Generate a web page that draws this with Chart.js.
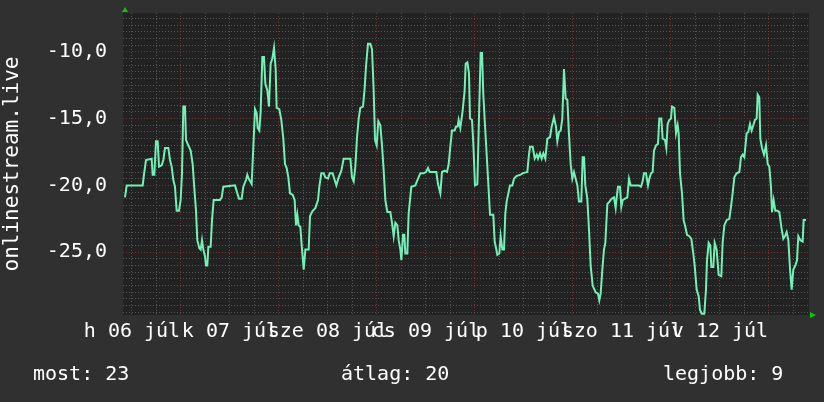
<!DOCTYPE html>
<html>
<head>
<meta charset="utf-8">
<script src="https://cdn.jsdelivr.net/npm/chart.js@4.4.1/dist/chart.umd.min.js"></script>
<style>
  html, body { margin: 0; padding: 0; background: #303030; }
  #wrap { position: relative; width: 824px; height: 402px; }
  .stat { position: absolute; top: 361px; font: 20px "DejaVu Sans Mono", monospace; line-height: 24px; color: #ffffff; white-space: pre; }
</style>
</head>
<body>
<div id="wrap">
  <canvas id="chart" width="824" height="402"></canvas>
  <div class="stat" id="stat0" style="left:33px"></div>
  <div class="stat" id="stat1" style="left:341px"></div>
  <div class="stat" id="stat2" style="left:663px"></div>
</div>
<script>
// Hours since the left edge of the graph (one week) and the plotted value
const hours = [
  0.49, 0.90, 4.82, 5.14, 5.63, 7.02, 7.26, 7.67, 8.08, 8.49, 8.82, 9.47, 9.88, 10.29, 11.10, 11.51, 11.92, 12.33, 12.73, 13.14,
  13.71, 14.12, 14.45, 14.77, 15.18, 15.43, 16.00, 16.57, 17.06, 17.39, 17.88, 18.20, 18.69, 19.02, 19.35, 19.67, 20.08, 20.33, 20.65, 20.90,
  21.47, 21.80, 22.20, 23.75, 24.16, 24.57, 27.43, 28.00, 28.41, 29.06, 29.47, 30.12, 30.45, 30.78, 31.51, 31.92, 32.33, 32.73, 32.98, 33.39,
  33.71, 34.12, 34.53, 34.86, 35.35, 35.75, 36.16, 36.57, 36.98, 37.39, 37.63, 38.28, 38.77, 39.26, 39.67, 40.08, 40.49, 40.90, 41.55,
  42.04, 42.37, 42.70, 43.02, 43.43, 43.84, 44.25, 44.66, 45.47, 45.80, 46.45, 47.10, 47.76, 48.08, 48.57, 49.15, 49.55, 50.21, 50.61, 51.35,
  51.84, 52.25, 52.82, 53.47, 54.04, 55.68, 56.08, 56.49, 56.90, 57.31, 57.72, 58.12, 58.78, 59.19, 59.51, 60.00, 60.57, 60.98, 61.39, 61.72,
  62.12, 62.53, 63.02, 63.43, 63.84, 64.25, 64.74, 65.47, 65.88, 66.29, 66.70, 67.19, 67.51, 67.92, 68.17, 68.57, 68.90, 69.14, 69.63, 69.96,
  70.61, 71.59, 72.25, 72.82, 73.63, 74.21, 74.70, 75.10, 76.74, 77.14, 77.72, 78.12, 78.78, 79.35, 79.76, 80.16, 80.57, 81.22, 81.55, 81.96,
  82.20, 82.61, 83.18, 83.67,
  83.92, 84.33, 84.73, 84.98, 85.47, 85.80, 86.20, 86.78, 87.18, 87.59, 87.92, 88.24, 88.65, 89.06, 89.47, 89.88, 90.69, 91.02, 91.43, 91.67,
  92.16, 92.49, 92.90, 93.31, 93.63, 93.96, 94.37, 94.77, 95.35, 95.75, 96.33, 97.39, 97.80, 99.02, 99.35, 99.67, 100.33, 100.82, 101.31, 101.63,
  102.12, 102.53, 102.94, 103.43, 103.92, 104.57, 104.98, 105.55, 106.04, 106.37, 106.78, 107.18, 107.59, 108.00, 108.41, 108.82, 109.22, 109.63, 110.04, 110.45,
  110.86, 111.27, 111.67, 112.24, 112.57, 112.90, 113.22, 113.71, 114.12, 114.53, 115.02, 115.75, 116.33, 116.65, 116.98, 117.39, 117.79, 118.12, 118.61, 119.18,
  119.67, 120.24, 120.65, 120.90, 121.22, 121.71, 122.04, 122.37, 122.86, 123.51, 123.92, 124.33, 126.37,
  126.85, 127.26, 127.59, 128.08, 128.57, 128.90, 129.30, 129.71, 130.04, 130.53, 131.02, 131.34, 131.83, 132.16, 132.73, 133.06, 133.39, 133.79, 134.20, 134.45,
  135.02, 135.43, 135.83, 136.08, 136.41, 136.90, 137.30, 137.71, 138.12, 138.69, 139.18, 139.67, 140.00, 140.49, 140.98, 141.30, 141.71, 142.36, 142.77, 143.02,
  143.43, 143.83, 144.08, 144.57, 144.90, 145.38, 145.87, 146.53, 146.85, 147.26, 147.83, 148.49, 148.90, 149.30, 149.71, 150.28, 150.94, 151.34, 151.75, 152.16,
  152.73, 153.14, 153.55, 153.96, 154.36, 154.77, 155.18, 155.43, 155.83, 156.08, 156.49, 156.98, 157.47, 157.88, 158.28, 158.69, 158.94, 159.34, 159.75, 160.32,
  160.73, 161.22, 161.71, 162.12, 162.53, 162.94, 163.34, 163.75, 164.16, 164.65, 165.06, 165.38, 165.88, 166.45, 166.69, 167.26
];
const values = [
  -20.9, -20.0, -20.0, -19.2, -18.1, -18.0, -19.2, -19.2, -16.7, -16.7, -18.6, -18.5, -18.1, -17.2, -17.2, -18.1, -18.6, -19.6, -20.1, -21.9,
  -21.9, -21.1, -19.1, -14.1, -14.1, -16.6, -17.0, -17.4, -18.4, -19.9, -21.9, -24.1, -24.7, -24.8, -24.1, -24.8, -25.3, -26.0, -26.0, -24.6,
  -24.6, -22.6, -21.1, -21.1, -20.9, -20.1, -20.0, -20.6, -21.0, -21.0, -20.1, -19.6, -19.2, -19.5, -19.9, -17.1, -14.3, -14.6, -15.7, -15.9,
  -14.5, -10.4, -10.4, -12.4, -12.9, -14.1, -10.9, -10.5, -9.7, -11.3, -14.2, -14.3, -15.1, -16.5, -18.4, -18.7, -19.4, -20.6, -20.7,
  -21.1, -23.0, -22.2, -23.0, -23.1, -24.8, -26.3, -24.8, -24.8, -22.3, -21.9, -21.7, -21.1, -20.1, -19.1, -19.1, -19.4, -19.5, -19.1, -19.1,
  -19.6, -20.0, -19.4, -18.9, -18.0, -18.0, -19.4, -19.7, -18.6, -16.4, -15.0, -14.2, -14.1, -12.7, -11.1, -9.4, -9.4, -9.8, -12.9, -16.6,
  -17.0, -15.2, -15.5, -17.0, -18.9, -21.1, -22.0, -22.0, -22.8, -23.8, -22.8, -23.0, -24.1, -24.8, -25.6, -23.7, -23.7, -25.1, -25.1, -22.1,
  -20.1, -20.0, -19.5, -19.1, -19.1, -19.0, -18.7, -19.0, -19.0, -19.9, -20.6, -19.0, -18.9, -19.0, -18.4, -17.1, -15.9, -15.9, -15.6, -15.6,
  -15.1, -15.7, -14.4, -12.9,
  -10.9, -10.8, -11.6, -15.0, -15.1, -16.9, -20.0, -19.9, -14.9, -10.1, -10.1, -13.2, -15.5, -17.7, -19.9, -22.2, -22.2, -24.2, -24.8, -25.2,
  -25.1, -23.8, -24.8, -24.8, -22.1, -21.2, -20.6, -20.0, -20.0, -19.5, -19.3, -19.2, -19.1, -19.0, -17.9, -17.1, -17.1, -18.0, -17.7, -18.0,
  -17.6, -18.0, -17.6, -18.0, -16.5, -16.4, -15.6, -14.9, -15.6, -16.7, -16.0, -15.9, -15.0, -11.3, -13.5, -13.6, -16.2, -18.4, -19.5, -19.0,
  -19.5, -20.0, -21.2, -21.2, -17.9, -17.9, -20.0, -21.0, -23.3, -26.0, -27.5, -28.0, -28.1, -28.6, -28.1, -26.3, -24.8, -24.3, -21.4, -21.2,
  -21.0, -20.9, -21.7, -20.9, -20.1, -20.1, -21.6, -21.1, -21.0, -20.9, -19.5, -20.0, -20.0,
  -20.1, -19.7, -19.1, -19.1, -20.0, -19.5, -19.1, -19.0, -17.4, -17.0, -16.9, -15.0, -15.0, -16.5, -16.6, -17.2, -15.4, -15.1, -15.0, -14.1,
  -14.2, -16.1, -15.5, -16.1, -19.1, -20.6, -22.6, -23.1, -23.7, -23.8, -24.0, -25.1, -26.0, -27.8, -28.3, -29.3, -29.6, -29.6, -27.8, -25.6,
  -24.3, -24.5, -26.1, -26.1, -24.3, -24.8, -26.7, -26.8, -24.3, -23.0, -22.6, -22.5, -21.6, -20.6, -19.4, -19.1, -19.0, -17.9, -17.7, -17.9,
  -16.1, -16.0, -15.4, -15.9, -15.5, -15.1, -15.0, -13.2, -13.4, -16.5, -17.2, -17.7, -17.0, -18.4, -18.6, -20.1, -22.0, -21.1, -21.9, -21.9,
  -22.0, -23.1, -24.0, -23.8, -23.5, -24.1, -26.2, -27.8, -26.3, -26.0, -25.6, -23.8, -24.1, -24.2, -22.6, -22.6
];

// Day labels sit at noon, day lines at midnight
const dayLabels = ['h 06 júl', 'k 07 júl', 'sze 08 júl', 'cs 09 júl', 'p 10 júl', 'szo 11 júl', 'v 12 júl'];
const labelHours = [2.2, 26.2, 50.2, 74.2, 98.2, 122.2, 146.2];
const yTickValues = [-10, -15, -20, -25];
const yTickLabels = ['-10,0', '-15,0', '-20,0', '-25,0'];
const yAxisTitle = 'onlinestream.live';
const statLabels = ['most', 'átlag', 'legjobb'];
const statValues = [23, 20, 9];

const X_MIN = 0, X_MAX = 168;
const Y_MIN = -29.7, Y_MAX = -7.1;

const FONT = { family: '"DejaVu Sans Mono", monospace', size: 20 };
const MINOR = '#545454';
const MAJOR = '#7a2e2e';

// 6 hour grid steps starting from the first label
const gridHours = [];
for (let h = labelHours[0]; h < X_MAX; h += 6) gridHours.push(Math.round(h * 10) / 10);

statLabels.forEach((name, i) => {
  document.getElementById('stat' + i).textContent = `${name}: ${statValues[i]}`;
});

const frame = {
  id: 'frame',
  beforeDraw(chart) {
    const { ctx, chartArea: a } = chart;
    ctx.save();
    ctx.fillStyle = '#222222';
    ctx.fillRect(a.left, a.top, a.right - a.left, a.bottom - a.top);
    ctx.restore();
  },
  afterDraw(chart) {
    const { ctx, chartArea: a } = chart;
    ctx.save();
    ctx.fillStyle = '#00cc00';
    // arrow on top of y axis
    ctx.beginPath();
    ctx.moveTo(a.left - 1, a.top - 1);
    ctx.lineTo(a.left + 5, a.top - 1);
    ctx.lineTo(a.left + 2, a.top - 6);
    ctx.closePath();
    ctx.fill();
    // arrow at end of x axis
    ctx.beginPath();
    ctx.moveTo(a.right + 1, a.bottom - 3);
    ctx.lineTo(a.right + 1, a.bottom + 3);
    ctx.lineTo(a.right + 7, a.bottom);
    ctx.closePath();
    ctx.fill();
    ctx.restore();
  }
};

new Chart(document.getElementById('chart'), {
  type: 'line',
  data: {
    datasets: [{
      data: hours.map((h, i) => ({ x: h, y: values[i] })),
      borderColor: '#72f0b6',
      borderWidth: 2,
      pointRadius: 0,
      tension: 0,
      fill: false
    }]
  },
  options: {
    responsive: false,
    animation: false,
    devicePixelRatio: 1,
    layout: { padding: { left: 0, top: 13, right: 15, bottom: 50 } },
    plugins: { legend: { display: false }, tooltip: { enabled: false } },
    scales: {
      x: {
        type: 'linear',
        min: X_MIN,
        max: X_MAX,
        afterBuildTicks: (scale) => { scale.ticks = gridHours.map(v => ({ value: v })); },
        afterFit: (scale) => {
          scale.height = 37;
          scale.paddingLeft = 0;
          scale.paddingRight = 0;
        },
        grid: {
          drawTicks: false,
          lineWidth: 1,
          color: (ctx) => (ctx.index % 4 === 2 ? MAJOR : MINOR)
        },
        border: { display: false, dash: [1, 2] },
        ticks: {
          autoSkip: false,
          maxRotation: 0,
          minRotation: 0,
          padding: 5,
          color: '#ffffff',
          font: FONT,
          callback: (value, index) => (index % 4 === 0 ? dayLabels[index / 4] : '')
        }
      },
      y: {
        min: Y_MIN,
        max: Y_MAX,
        afterFit: (scale) => {
          scale.width = 123;
          scale.paddingTop = 0;
          scale.paddingBottom = 0;
        },
        grid: {
          drawTicks: false,
          lineWidth: 1,
          color: (ctx) => (ctx.tick && Math.abs(ctx.tick.value % 5) < 1e-6 ? MAJOR : MINOR)
        },
        border: { display: false, dash: [1, 2] },
        ticks: {
          stepSize: 0.5,
          includeBounds: false,
          autoSkip: false,
          padding: 16,
          color: '#ffffff',
          font: FONT,
          callback: (value) => {
            const i = yTickValues.indexOf(Math.round(value * 10) / 10);
            return i >= 0 ? yTickLabels[i] : '';
          }
        },
        title: {
          display: true,
          text: yAxisTitle,
          color: '#ffffff',
          font: { family: FONT.family, size: 21 },
          padding: 0
        }
      }
    }
  },
  plugins: [frame]
});
</script>
</body>
</html>
